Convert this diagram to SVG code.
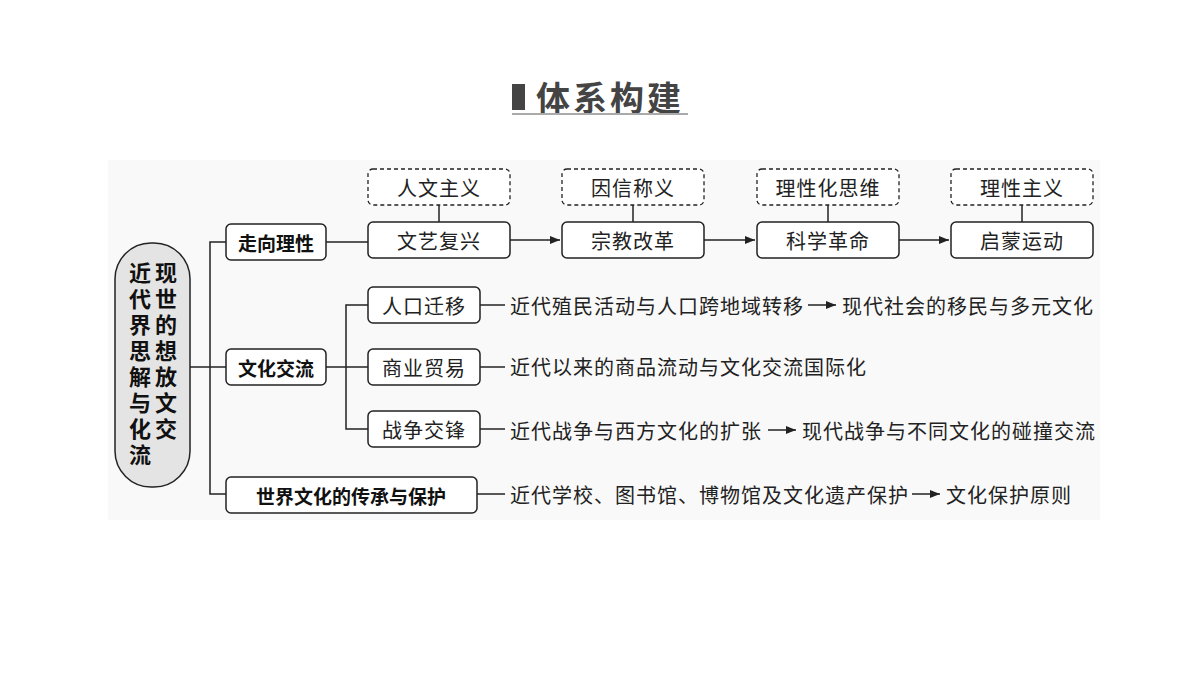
<svg xmlns="http://www.w3.org/2000/svg" width="1200" height="675" viewBox="0 0 1200 675">
<style>
.b{fill:#fff;stroke:#222;stroke-width:1.5}
.d{fill:#fff;stroke:#222;stroke-width:1.3;stroke-dasharray:4 3}
.t{font-family:"Noto Sans CJK SC",sans-serif;font-size:20px;letter-spacing:1px;fill:#222;text-anchor:middle;dominant-baseline:central}
.tb{font-family:"Noto Sans CJK SC",sans-serif;font-size:19px;font-weight:bold;fill:#111;text-anchor:middle;dominant-baseline:central}
.tl{font-family:"Noto Sans CJK SC",sans-serif;font-size:20px;letter-spacing:1px;fill:#222;dominant-baseline:central}
.c{font-family:"Noto Sans CJK SC",sans-serif;font-size:22px;font-weight:bold;fill:#111;writing-mode:vertical-rl;letter-spacing:4px}
line,path.l{stroke:#222;stroke-width:1.5;fill:none}
</style>
<defs><marker id="a" viewBox="0 0 10 10" refX="10" refY="5" markerWidth="7" markerHeight="7" orient="auto"><path d="M0,1L10,5L0,9z" fill="#222"/></marker></defs>
<rect width="1200" height="675" fill="#fff"/>
<rect x="108" y="160" width="992" height="360" fill="#f9f9f9"/>
<g id="title">
<rect x="512" y="84" width="13" height="26" fill="#444"/>
<text x="610" y="96" font-family="Noto Sans CJK SC,sans-serif" font-size="34" font-weight="bold" letter-spacing="3" fill="#444" text-anchor="middle" dominant-baseline="central">体系构建</text>
<line x1="512" y1="114" x2="688" y2="114" style="stroke:#aaa;stroke-width:2"/>
</g>
<g id="connectors">
<line x1="190" y1="367" x2="226" y2="367"/>
<path class="l" d="M226,242H210V494H226"/>
<line x1="326" y1="242" x2="368" y2="242"/>
<line x1="326" y1="367" x2="368" y2="367"/>
<path class="l" d="M368,305H346V429H368"/>
<line x1="510" y1="240" x2="560" y2="240" marker-end="url(#a)"/>
<line x1="704" y1="240" x2="755" y2="240" marker-end="url(#a)"/>
<line x1="899" y1="240" x2="949" y2="240" marker-end="url(#a)"/>
<line x1="439" y1="205" x2="439" y2="222"/>
<line x1="633" y1="205" x2="633" y2="222"/>
<line x1="828" y1="205" x2="828" y2="222"/>
<line x1="1022" y1="205" x2="1022" y2="222"/>
<line x1="480" y1="305" x2="505" y2="305"/>
<line x1="480" y1="367" x2="505" y2="367"/>
<line x1="480" y1="429" x2="505" y2="429"/>
<line x1="477" y1="494" x2="505" y2="494"/>
<line x1="808" y1="305" x2="836" y2="305" marker-end="url(#a)"/>
<line x1="768" y1="430" x2="796" y2="430" marker-end="url(#a)"/>
<line x1="912" y1="494" x2="940" y2="494" marker-end="url(#a)"/>
</g>
<g id="center"><rect x="115" y="243" width="75" height="244" rx="36" style="fill:#e4e4e4;stroke:#222;stroke-width:1.5"/>
<text class="c" x="140" y="262">近代界思解与化流</text>
<text class="c" x="166" y="262">现世的想放文交</text></g>
<g id="n1"><rect class="b" x="226" y="224" width="100" height="36" rx="5"/><text class="tb" x="276" y="242">走向理性</text></g>
<g id="n2"><rect class="b" x="226" y="349" width="100" height="36" rx="5"/><text class="tb" x="276" y="367">文化交流</text></g>
<g id="n3"><rect class="b" x="226" y="477" width="251" height="36" rx="5"/><text class="tb" x="351" y="495">世界文化的传承与保护</text></g>
<g id="r1"><rect class="b" x="368" y="222" width="142" height="36" rx="5"/><text class="t" x="439" y="240">文艺复兴</text></g>
<g id="r2"><rect class="b" x="562" y="222" width="142" height="36" rx="5"/><text class="t" x="633" y="240">宗教改革</text></g>
<g id="r3"><rect class="b" x="757" y="222" width="142" height="36" rx="5"/><text class="t" x="828" y="240">科学革命</text></g>
<g id="r4"><rect class="b" x="951" y="222" width="142" height="36" rx="5"/><text class="t" x="1022" y="240">启蒙运动</text></g>
<g id="d1"><rect class="d" x="368" y="169" width="142" height="36" rx="5"/><text class="t" x="439" y="187">人文主义</text></g>
<g id="d2"><rect class="d" x="562" y="169" width="142" height="36" rx="5"/><text class="t" x="633" y="187">因信称义</text></g>
<g id="d3"><rect class="d" x="757" y="169" width="142" height="36" rx="5"/><text class="t" x="828" y="187">理性化思维</text></g>
<g id="d4"><rect class="d" x="951" y="169" width="142" height="36" rx="5"/><text class="t" x="1022" y="187">理性主义</text></g>
<g id="m1"><rect class="b" x="368" y="287" width="112" height="36" rx="5"/><text class="t" x="424" y="305">人口迁移</text></g>
<g id="m2"><rect class="b" x="368" y="349" width="112" height="36" rx="5"/><text class="t" x="424" y="367">商业贸易</text></g>
<g id="m3"><rect class="b" x="368" y="411" width="112" height="36" rx="5"/><text class="t" x="424" y="429">战争交锋</text></g>
<g id="texts">
<text class="tl" x="510" y="305">近代殖民活动与人口跨地域转移</text>
<text class="tl" x="842" y="305">现代社会的移民与多元文化</text>
<text class="tl" x="510" y="366">近代以来的商品流动与文化交流国际化</text>
<text class="tl" x="510" y="430">近代战争与西方文化的扩张</text>
<text class="tl" x="802" y="430">现代战争与不同文化的碰撞交流</text>
<text class="tl" x="510" y="494">近代学校、图书馆、博物馆及文化遗产保护</text>
<text class="tl" x="946" y="494">文化保护原则</text>
</g>
</svg>
